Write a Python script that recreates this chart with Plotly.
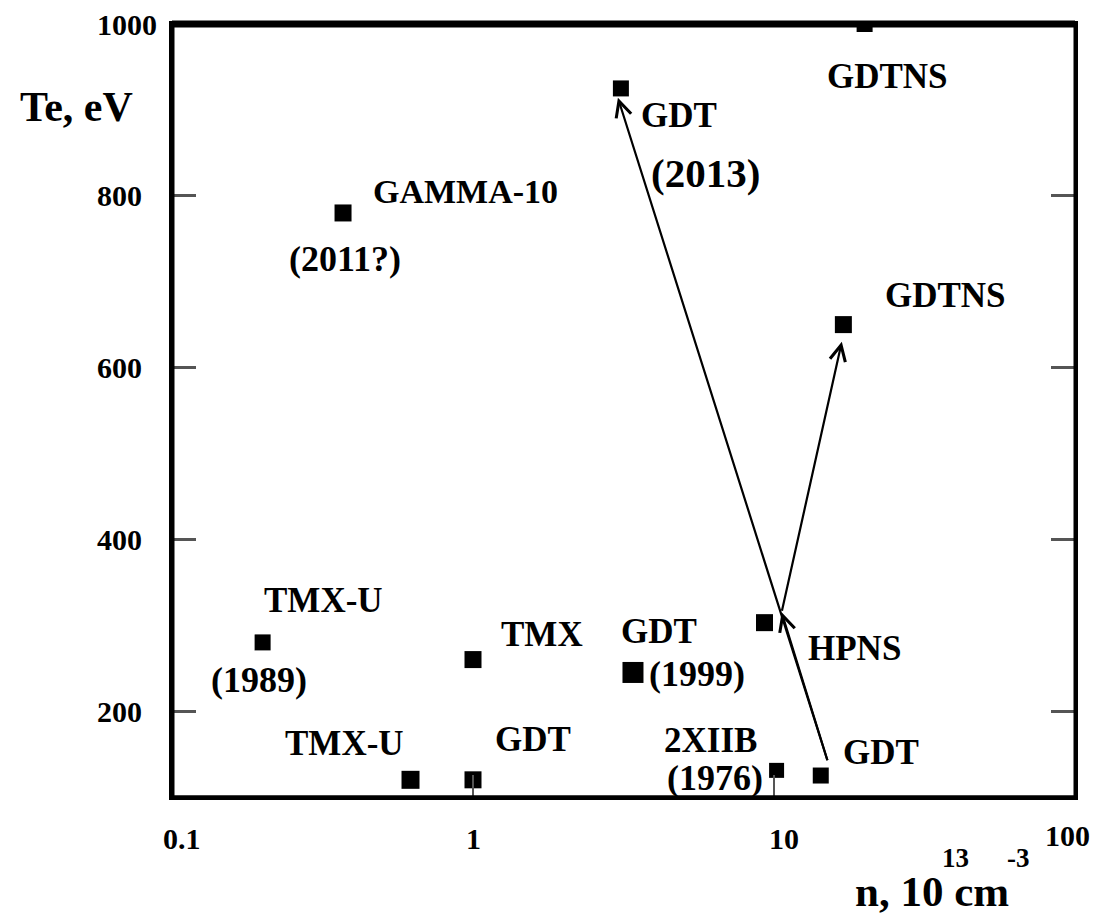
import numpy as np
import plotly.graph_objects as go

# ---------------- data ----------------
devices = ["GDTNS", "GDT", "GAMMA-10", "GDTNS", "TMX-U", "TMX", "GDT",
           "HPNS", "TMX-U", "GDT", "2XIIB", "GDT"]
density = [20, 3.1, 0.37, 17, 0.2, 1.0, 3.4, 9.3, 0.62, 1.0, 10.2, 14.3]
te_ev = [1000, 925, 780, 650, 280, 260, 245, 303, 120, 120, 131, 125]
years = ["", "(2013)", "(2011?)", "", "(1989)", "", "(1999)", "", "", "", "(1976)", ""]

# arrows (tail -> head), data units
arrow_tail_n = [15.1, 10.6, 15.1]
arrow_tail_te = [141, 315, 141]
arrow_head_n = [10.6, 16.8, 3.03]
arrow_head_te = [315, 630, 914]

x_tick_vals = [0.1, 1, 10, 100]
x_tick_text = ["0.1", "1", "10", "100"]
y_tick_vals = [200, 400, 600, 800, 1000]
y_tick_text = ["200", "400", "600", "800", "1000"]

# ---------------- styling ----------------
FONT = "Liberation Serif"
marker_sizes = [16, 16, 17, 17, 16, 17, 21, 17, 18, 17, 15, 16]
# label offsets in pixels (dx right, dy up) relative to each point
name_offsets = [(23, -52), (58, -27), (122, 21), (102, 29), (61, 42), (69, 25),
                (26, 41), (90, -26), (-66, 36), (60, 40), (-66, 30), (60, 23)]
year_offsets = [None, (85, -85), (2, -46), None, (-4, -38), None,
                (64, -2), None, None, None, (-62, -8), None]
year_sizes = [0, 41, 36, 0, 36, 0, 36, 0, 0, 0, 36, 0]
x_label_shift = [(10, 0), (0, 0), (10, 0), (-8, 3)]

W, H = 1095, 917
ML, MR, MT, MB = 172, 20, 24, 120
PW, PH = W - ML - MR, H - MT - MB

fig = go.Figure()
fig.add_trace(go.Scatter(
    x=density, y=te_ev, mode="markers",
    marker=dict(symbol="square", size=marker_sizes, color="black", opacity=1,
                line=dict(width=0)),
    hoverinfo="x+y", showlegend=False))

ann = []
for i, name in enumerate(devices):
    dx, dy = name_offsets[i]
    ann.append(dict(x=np.log10(density[i]), y=te_ev[i], xref="x", yref="y",
                    text=f"<b>{name}</b>", showarrow=False,
                    xshift=dx, yshift=dy,
                    font=dict(family=FONT, size=35 if name != "GAMMA-10" else 34,
                              color="black")))
    if years[i]:
        dx, dy = year_offsets[i]
        ann.append(dict(x=np.log10(density[i]), y=te_ev[i], xref="x", yref="y",
                        text=f"<b>{years[i]}</b>", showarrow=False,
                        xshift=dx, yshift=dy,
                        font=dict(family=FONT, size=year_sizes[i], color="black")))

for tn, tt, hn, ht in zip(arrow_tail_n, arrow_tail_te, arrow_head_n, arrow_head_te):
    ann.append(dict(x=np.log10(hn), y=ht, ax=np.log10(tn), ay=tt,
                    xref="x", yref="y", axref="x", ayref="y", text="",
                    showarrow=True, arrowhead=5, arrowsize=1.4, arrowwidth=2.2,
                    arrowcolor="black", standoff=0, startstandoff=0))

# tick labels
for (v, t), (sx, sy) in zip(zip(x_tick_vals, x_tick_text), x_label_shift):
    ann.append(dict(x=np.log10(v), y=-41 / PH, xref="x", yref="paper",
                    text=f"<b>{t}</b>", showarrow=False, yanchor="middle",
                    xanchor="center", xshift=sx, yshift=sy,
                    font=dict(family=FONT, size=30, color="black")))
for v, t in zip(y_tick_vals, y_tick_text):
    ann.append(dict(x=(95 - ML) / PW, y=v, xref="paper", yref="y",
                    text=f"<b>{t}</b>", showarrow=False, xanchor="left",
                    yanchor="middle",
                    font=dict(family=FONT, size=30, color="black")))

# axis titles
ann.append(dict(x=(76 - ML) / PW, y=((H - MB) - 107) / PH, xref="paper",
                yref="paper", text="<b>Te, eV</b>", showarrow=False,
                xanchor="center", yanchor="middle",
                font=dict(family=FONT, size=42, color="black")))
ann.append(dict(x=(932 - ML) / PW, y=-(MB - 1) / PH, xref="paper",
                yref="paper", text="<b>n, 10 cm</b>", showarrow=False,
                xanchor="center", yanchor="bottom", borderpad=0,
                font=dict(family=FONT, size=43, color="black")))
ann.append(dict(x=(955 - ML) / PW, y=((H - MB) - 858) / PH, xref="paper",
                yref="paper", text="<b>13</b>", showarrow=False,
                xanchor="center", yanchor="middle", borderpad=0,
                font=dict(family=FONT, size=27, color="black")))
ann.append(dict(x=(1018 - ML) / PW, y=((H - MB) - 858) / PH, xref="paper",
                yref="paper", text="<b>-3</b>", showarrow=False,
                xanchor="center", yanchor="middle", borderpad=0,
                font=dict(family=FONT, size=27, color="black")))

shapes = [
    dict(type="line", xref="paper", yref="paper", x0=0, x1=0, y0=0, y1=1,
         line=dict(color="black", width=5)),
    dict(type="line", xref="paper", yref="paper", x0=0, x1=1, y0=1, y1=1,
         line=dict(color="black", width=7)),
    dict(type="line", xref="paper", yref="paper", x0=0, x1=1, y0=0, y1=0,
         line=dict(color="black", width=3.5)),
    dict(type="line", xref="paper", yref="paper", x0=1, x1=1, y0=0, y1=1,
         line=dict(color="black", width=3)),
]

fig.update_layout(
    width=W, height=H,
    margin=dict(l=ML, r=MR, t=MT, b=MB),
    paper_bgcolor="white", plot_bgcolor="white",
    xaxis=dict(type="log", range=[-1, 2], tickvals=x_tick_vals,
               showticklabels=False, ticks="inside", ticklen=22, tickwidth=2,
               tickcolor="#555", showgrid=False, zeroline=False,
               showline=True, linecolor="black", linewidth=3, mirror=True),
    yaxis=dict(range=[100, 1000], tickvals=y_tick_vals,
               showticklabels=False, ticks="inside", ticklen=24, tickwidth=3,
               tickcolor="#555", showgrid=False, zeroline=False,
               showline=True, linecolor="black", linewidth=3, mirror="ticks"),
    annotations=ann, shapes=shapes,
)

fig.write_html("out.html", config={"displayModeBar": False},
               post_script="document.body.style.margin='0px';"
                           "document.body.style.overflow='hidden';")
